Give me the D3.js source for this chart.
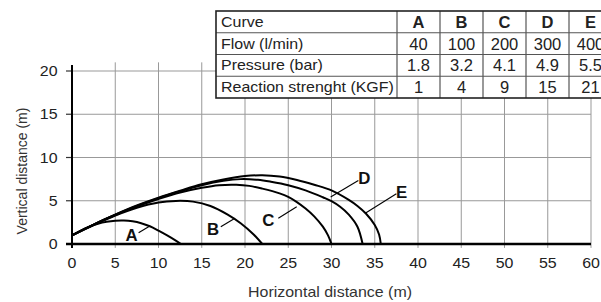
<!DOCTYPE html>
<html><head><meta charset="utf-8">
<script src="https://cdn.jsdelivr.net/npm/d3@7"></script>
<style>body{margin:0;background:#fff}svg{display:block}</style>
</head><body>
<svg id="c" width="601" height="302"></svg>
<script>
// ---- data ----
const curveNames = ["A","B","C","D","E"];
const flow = ["40","100","200","300","400"];
const pressure = ["1.8","3.2","4.1","4.9","5.5"];
const reaction = ["1","4","9","15","21"];
const rowLabels = ["Curve","Flow (l/min)","Pressure (bar)","Reaction strenght (KGF)"];
const xTicks = [0,5,10,15,20,25,30,35,40,45,50,55,60];
const yTicks = [0,5,10,15,20];

const curveA = [[0,1],[1,1.55],[2,2.0],[3,2.35],[4,2.58],[5,2.7],[6,2.72],[7,2.62],[8,2.4],[9,2.05],[10,1.55],[11,1.0],[12,0.4],[12.6,0]];
const curveB = [[0,1],[2.5,2.2],[5,3.3],[7.5,4.2],[10,4.8],[12,4.98],[14,4.9],[16,4.4],[18,3.4],[19.5,2.4],[21,1.1],[22,0]];
const curveC = [[0,1],[2.5,2.25],[5,3.35],[7.5,4.35],[10,5.2],[12.5,5.95],[15,6.5],[17,6.8],[19,6.85],[20.5,6.72],[22,6.4],[24,5.85],[25,5.45],[26,4.85],[27,4.1],[28,3.2],[29,2.0],[29.6,1.0],[30,0]];
const curveD = [[0,1],[2.5,2.25],[5,3.38],[7.5,4.4],[10,5.3],[12.5,6.1],[15,6.8],[17.5,7.3],[19.5,7.5],[21.5,7.42],[23,7.2],[25,6.8],[27,6.2],[29,5.4],[30,4.95],[31,4.3],[32,3.4],[33,2.0],[33.6,0]];
const curveE = [[0,1],[2.5,2.25],[5,3.4],[7.5,4.45],[10,5.35],[12.5,6.15],[15,6.9],[17.5,7.45],[20,7.85],[22,7.95],[24,7.8],[26,7.4],[28,6.85],[30,6.2],[32,5.1],[33,4.4],[34,3.5],[35,2.2],[35.5,1.1],[35.7,0]];
const curves = [curveA,curveB,curveC,curveD,curveE];

// label annotations (data units): text position, leader start, leader end
const labelPos = [[6.9,1.0],[16.3,1.65],[22.7,2.72],[33.8,7.6],[38.1,6.0]];
const leaderFrom = [[7.7,1.3],[17.2,2.0],[23.85,2.97],[33.1,7.34],[37.5,5.8]];
const leaderTo = [[9.0,2.08],[18.84,2.97],[25.98,4.31],[29.9,5.43],[33.9,3.55]];

// ---- layout ----
const svg = d3.select("#c");
const x = d3.scaleLinear().domain([0,60]).range([72,591]);
const y = d3.scaleLinear().domain([0,20]).range([244,71]);
const gridCol = "#999";
const textCol = "#222";
const SX = 1.14; // horizontal stretch of the original artwork's text

// grid
const g = svg.append("g");
g.selectAll("line.vg").data(xTicks.filter(d=>d>0)).join("line")
  .attr("x1",d=>x(d)).attr("x2",d=>x(d)).attr("y1",y(-0.45)).attr("y2",y(21))
  .attr("stroke",gridCol).attr("stroke-width",1);
g.selectAll("line.hg").data(yTicks.filter(d=>d>0)).join("line")
  .attr("x1",x(0)).attr("x2",x(60)).attr("y1",d=>y(d)).attr("y2",d=>y(d))
  .attr("stroke",gridCol).attr("stroke-width",1);

// y ticks (left of axis)
g.selectAll("line.yt").data(yTicks).join("line")
  .attr("x1",x(0)-6).attr("x2",x(0)).attr("y1",d=>y(d)).attr("y2",d=>y(d))
  .attr("stroke","#333").attr("stroke-width",1.2);

// axes lines
svg.append("line").attr("x1",x(0)).attr("x2",x(0)).attr("y1",y(20.7)).attr("y2",y(-0.45))
  .attr("stroke","#000").attr("stroke-width",2);
svg.append("line").attr("x1",x(0)-6).attr("x2",x(60)).attr("y1",y(0)).attr("y2",y(0))
  .attr("stroke","#000").attr("stroke-width",2.6);

// tick labels
svg.selectAll("text.xt").data(xTicks).join("text")
  .attr("transform",d=>`translate(${x(d)},268) scale(${SX},1)`).attr("text-anchor","middle")
  .attr("font-family","'Liberation Sans Narrow', 'Liberation Sans', sans-serif").attr("font-size",14)
  .attr("fill",textCol).text(d=>d);
svg.selectAll("text.yt").data(yTicks).join("text")
  .attr("transform",d=>`translate(57.5,${y(d)}) scale(${SX},1)`).attr("dy","0.36em").attr("text-anchor","end")
  .attr("font-family","'Liberation Sans Narrow', 'Liberation Sans', sans-serif").attr("font-size",14)
  .attr("fill",textCol).text(d=>d);

// axis titles
svg.append("text").attr("transform",`translate(330,297) scale(${SX},1)`).attr("text-anchor","middle")
  .attr("font-family","'Liberation Sans', Arial, sans-serif").attr("font-size",14)
  .attr("fill","#333").text("Horizontal distance (m)");
svg.append("text").attr("transform","translate(27,171) rotate(-90)").attr("text-anchor","middle")
  .attr("font-family","'Liberation Sans', Arial, sans-serif").attr("font-size",14)
  .attr("fill","#333").text("Vertical distance (m)");

// curves
const line = d3.line().x(d=>x(d[0])).y(d=>y(d[1])).curve(d3.curveCatmullRom.alpha(0.5));
svg.selectAll("path.cv").data(curves).join("path")
  .attr("d",line).attr("fill","none").attr("stroke","#000").attr("stroke-width",2);

// labels + leaders
svg.selectAll("line.ld").data(curveNames).join("line")
  .attr("x1",(d,i)=>x(leaderFrom[i][0])).attr("y1",(d,i)=>y(leaderFrom[i][1]))
  .attr("x2",(d,i)=>x(leaderTo[i][0])).attr("y2",(d,i)=>y(leaderTo[i][1]))
  .attr("stroke","#000").attr("stroke-width",1.1);
svg.selectAll("text.lb").data(curveNames).join("text")
  .attr("transform",(d,i)=>`translate(${x(labelPos[i][0])},${y(labelPos[i][1])}) scale(1.05,1)`)
  .attr("dy","0.36em").attr("text-anchor","middle")
  .attr("font-family","'Liberation Sans Narrow', sans-serif").attr("font-weight","bold").attr("font-size",16)
  .attr("fill","#111").text(d=>d);

// ---- table ----
const tX = 216, tY = 11, labelW = 181, colW = 43, rowH = 21.75;
const rows = [curveNames, flow, pressure, reaction];
const tg = svg.append("g");
tg.append("rect").attr("x",tX).attr("y",tY).attr("width",labelW+colW*5).attr("height",rowH*4)
  .attr("fill","#fff").attr("stroke","none");
for (let r=1;r<4;r++) tg.append("line").attr("x1",tX).attr("x2",tX+labelW+colW*5)
  .attr("y1",tY+r*rowH).attr("y2",tY+r*rowH).attr("stroke","#555").attr("stroke-width",1.2);
for (let c=0;c<5;c++) tg.append("line").attr("x1",tX+labelW+c*colW).attr("x2",tX+labelW+c*colW)
  .attr("y1",tY).attr("y2",tY+4*rowH).attr("stroke","#555").attr("stroke-width",1.2);
tg.append("rect").attr("x",tX).attr("y",tY).attr("width",labelW+colW*5).attr("height",rowH*4)
  .attr("fill","none").attr("stroke","#222").attr("stroke-width",1.6);

tg.selectAll("text.rl").data(rowLabels).join("text")
  .attr("transform",(d,i)=>`translate(${tX+5},${tY+i*rowH+rowH/2}) scale(${SX},1)`).attr("dy","0.36em")
  .attr("font-family","'Liberation Sans', Arial, sans-serif").attr("font-size",14)
  .attr("fill",textCol).text(d=>d);
rows.forEach((vals,r)=>{
  tg.selectAll("text.v"+r).data(vals).join("text")
    .attr("x",(d,i)=>tX+labelW+i*colW+colW/2).attr("y",tY+r*rowH+rowH/2).attr("dy","0.37em")
    .attr("text-anchor","middle")
    .attr("font-family","'Liberation Sans Narrow', sans-serif")
    .attr("font-weight",r===0?"bold":"normal").attr("font-size",16.5)
    .attr("fill",textCol).text(d=>d);
});
</script>
</body></html>
